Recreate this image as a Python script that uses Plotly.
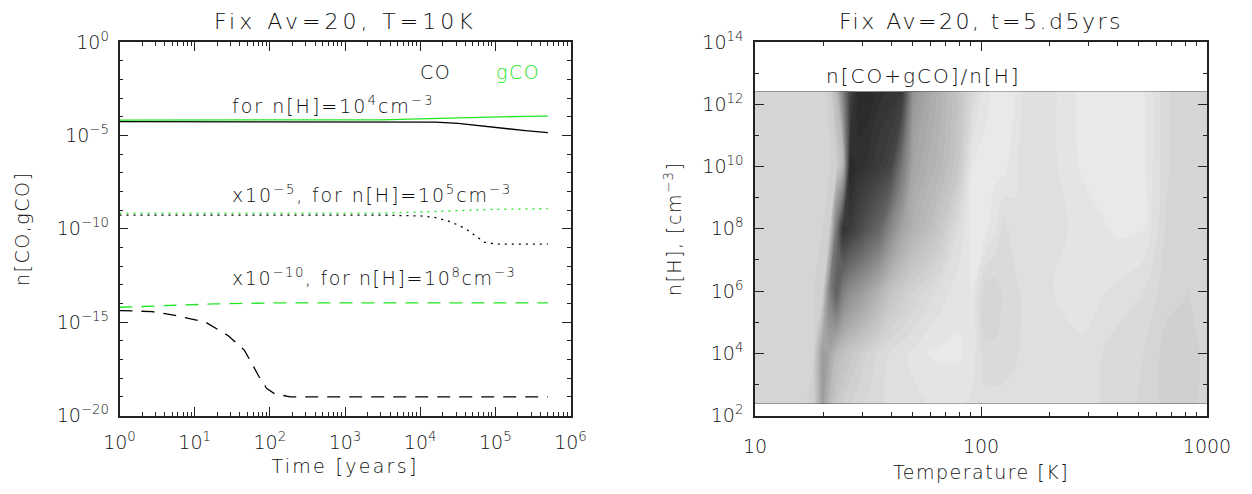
import plotly.graph_objects as go

# ---------------- left panel data (Fix Av=20, T=10K) ----------------
t_co_n4 = [1, 1e2, 1e4, 1.6e4, 3.2e4, 6.3e4, 1e5, 2.5e5, 5e5]
co_n4 = [5.4e-5, 5.4e-5, 5.4e-5, 5.1e-5, 4.4e-5, 3.2e-5, 2.6e-5, 1.8e-5, 1.4e-5]
t_gco_n4 = [1, 1e3, 3e3, 1e4, 3e4, 1e5, 2.5e5, 5e5]
gco_n4 = [6.6e-5, 6.6e-5, 6.8e-5, 7.6e-5, 8.7e-5, 1.0e-4, 1.05e-4, 1.07e-4]

t_co_n5 = [1, 1e3, 3e3, 1e4, 1.6e4, 2.3e4, 3.2e4, 4.1e4, 5.8e4, 7.2e4, 1.05e5, 5e5]
co_n5 = [5.4e-10, 5.4e-10, 5.4e-10, 4.9e-10, 4.0e-10, 2.7e-10, 1.6e-10, 9.5e-11,
         3.5e-11, 1.9e-11, 1.5e-11, 1.5e-11]
t_gco_n5 = [1, 3e3, 1e4, 3e4, 1e5, 5e5]
gco_n5 = [6.9e-10, 6.9e-10, 7.9e-10, 9.5e-10, 1.1e-9, 1.2e-9]

t_co_n8 = [1, 2.7, 5.5, 14, 28, 46, 72, 91, 115, 186, 5e5]
co_n8 = [4.2e-15, 3.7e-15, 2.3e-15, 1.0e-15, 1.9e-16, 3.1e-17, 1.2e-18, 2.8e-19,
         1.5e-19, 1.0e-19, 1.0e-19]
t_gco_n8 = [1, 4, 18, 100, 5e5]
gco_n8 = [6.3e-15, 7.9e-15, 9.5e-15, 1.07e-14, 1.07e-14]

time_ticks = [1, 10, 100, 1e3, 1e4, 1e5, 1e6]
time_ticktext = ["10<sup>0</sup>", "10<sup>1</sup>", "10<sup>2</sup>", "10<sup>3</sup>",
                 "10<sup>4</sup>", "10<sup>5</sup>", "10<sup>6</sup>"]
abund_ticks = [1, 1e-5, 1e-10, 1e-15, 1e-20]
abund_ticktext = ["10<sup>0</sup>", "10<sup>−5</sup>", "10<sup>−10</sup>",
                  "10<sup>−15</sup>", "10<sup>−20</sup>"]

# ---------------- right panel data (Fix Av=20, t=5.d5yrs) ----------------
logT_grid = [1.00, 1.20, 1.26, 1.30, 1.33, 1.36, 1.39, 1.42, 1.46, 1.50, 1.55, 1.60,
             1.65, 1.70, 1.76, 1.82, 1.90, 1.96, 2.02, 2.06, 2.10, 2.15, 2.22, 2.32,
             2.45, 2.60, 2.72, 2.82, 2.92, 3.00]
logn_grid = [2.4, 4.0, 6.0, 8.0, 10.0, 12.4]
# grey shade of n[CO+gCO]/n[H] (0 = black, 255 = white), one row per density
shade_n2 = [212, 212, 208, 158, 185, 200, 206, 210, 214, 216, 219, 222, 224, 224, 225,
            226, 226, 224, 222, 222, 222, 223, 224, 224, 222, 218, 214, 208, 208, 212]
shade_n4 = [212, 212, 210, 155, 165, 184, 192, 198, 204, 210, 216, 221, 224, 226, 230,
            231, 231, 228, 216, 216, 217, 219, 223, 224, 224, 217, 215, 208, 207, 212]
shade_n6 = [212, 212, 210, 208, 130, 95, 125, 140, 150, 163, 178, 194, 202, 210, 216,
            222, 228, 230, 212, 212, 216, 218, 224, 225, 227, 224, 220, 212, 210, 212]
shade_n8 = [212, 212, 212, 210, 205, 120, 50, 58, 72, 86, 102, 136, 162, 178, 188,
            200, 220, 232, 232, 226, 218, 224, 224, 224, 226, 231, 230, 214, 210, 212]
shade_n10 = [212, 212, 212, 212, 210, 205, 180, 40, 48, 52, 60, 68, 120, 165, 175,
             183, 200, 230, 232, 232, 232, 226, 220, 224, 231, 232, 231, 216, 210, 212]
shade_n12 = [212, 212, 212, 212, 208, 185, 130, 68, 40, 40, 48, 51, 53, 148, 165,
             178, 196, 215, 228, 232, 232, 230, 220, 224, 232, 232, 231, 216, 210, 212]

temp_ticks = [10, 100, 1000]
dens_ticks = [1e2, 1e4, 1e6, 1e8, 1e10, 1e12, 1e14]
dens_ticktext = ["10<sup>2</sup>", "10<sup>4</sup>", "10<sup>6</sup>", "10<sup>8</sup>",
                 "10<sup>10</sup>", "10<sup>12</sup>", "10<sup>14</sup>"]

# ---------------- figure ----------------
W, H = 1252, 494
FONT = "DejaVu Sans"
WEIGHT = 300
GREEN = "#22e622"
INK = "#111111"


def spaced(text, px):
    return '<span style="letter-spacing:%spx">%s</span>' % (px, text)


def fnt(size, color=INK):
    return dict(family=FONT, size=size, color=color, weight=WEIGHT)


fig = go.Figure()


def line(t, v, color, dash, name):
    fig.add_trace(go.Scatter(x=t, y=v, mode="lines", name=name, showlegend=False,
                             line=dict(color=color, width=1.3, dash=dash),
                             xaxis="x", yaxis="y"))


line(t_co_n4, co_n4, "black", "solid", "CO n=1e4")
line(t_gco_n4, gco_n4, GREEN, "solid", "gCO n=1e4")
line(t_co_n5, co_n5, "black", "2px,5px", "CO n=1e5")
line(t_gco_n5, gco_n5, GREEN, "2px,5px", "gCO n=1e5")
line(t_co_n8, co_n8, "black", "13px,9px", "CO n=1e8")
line(t_gco_n8, gco_n8, GREEN, "13px,9px", "gCO n=1e8")

T_vals = [10 ** v for v in logT_grid]
n_vals = [10 ** v for v in logn_grid]
fig.add_trace(go.Contour(
    x=T_vals, y=n_vals,
    z=[shade_n2, shade_n4, shade_n6, shade_n8, shade_n10, shade_n12],
    colorscale=[[0, "black"], [1, "white"]], zmin=0, zmax=255, zauto=False,
    autocontour=False,
    contours=dict(coloring="fill", start=0, end=255, size=5, showlines=False),
    line=dict(width=0), showscale=False, hoverinfo="skip",
    xaxis="x2", yaxis="y2"))

ydom = [(H - 415.6) / H, (H - 42) / H]
xdom1 = [119.5 / W, 570.5 / W]
xdom2 = [755 / W, 1207 / W]

axis_common = dict(showline=True, linecolor="#222", linewidth=1.5, mirror="ticks",
                   ticks="inside", ticklen=9, tickcolor="#222", tickwidth=1.2,
                   showgrid=False, zeroline=False, automargin=False,
                   tickfont=fnt(19))

time_minor = [k * 10 ** d for d in range(6) for k in range(2, 10)]
abund_minor = [10.0 ** (-d) for d in range(0, 21)]
temp_minor = [k * 10 ** d for d in range(1, 3) for k in range(2, 10)]
dens_minor = [10.0 ** d for d in range(3, 14, 2)]

fig.update_layout(
    width=W, height=H, margin=dict(l=0, r=0, t=0, b=0),
    paper_bgcolor="white", plot_bgcolor="white", showlegend=False,
    font=fnt(19),
    xaxis=dict(axis_common, type="log", domain=xdom1, range=[0, 6], anchor="y",
               tickvals=time_ticks, ticktext=time_ticktext, ticklabelstandoff=9,
               minor=dict(tickvals=time_minor, ticks="inside", ticklen=4,
                          tickcolor="#222", showgrid=False),
               title=dict(text=spaced("Time [years]", 2.3), standoff=8, font=fnt(19))),
    yaxis=dict(axis_common, type="log", domain=ydom, range=[-20, 0], anchor="x",
               tickvals=abund_ticks, ticktext=abund_ticktext, ticklabelstandoff=5,
               minor=dict(tickvals=abund_minor, ticks="inside", ticklen=4,
                          tickcolor="#222", showgrid=False),
               title=dict(text=spaced("n[CO,gCO]", 1.5), standoff=22, font=fnt(19))),
    xaxis2=dict(axis_common, type="log", domain=xdom2, range=[1, 3], anchor="y2",
                tickvals=temp_ticks, ticktext=["10", "100", "1000"], ticklabelstandoff=13,
                minor=dict(tickvals=temp_minor, ticks="inside", ticklen=4,
                           tickcolor="#222", showgrid=False),
                title=dict(text=spaced("Temperature [K]", 1.5), standoff=10,
                           font=fnt(19))),
    yaxis2=dict(axis_common, type="log", domain=ydom, range=[2, 14], anchor="x2",
                tickvals=dens_ticks, ticktext=dens_ticktext, ticklabelstandoff=6,
                minor=dict(tickvals=dens_minor, ticks="inside", ticklen=4,
                           tickcolor="#222", showgrid=False),
                title=dict(text=spaced("n[H], [cm<sup>−3</sup>]", 1.5), standoff=16,
                           font=fnt(19))),
)


def note(text, x, y, xref, yref, color=INK, size=19, xanchor="left"):
    fig.add_annotation(text=text, x=x, y=y, xref=xref, yref=yref, showarrow=False,
                       xanchor=xanchor, yanchor="middle", font=fnt(size, color))


# titles
note(spaced("Fix Av=20, T=10K", 4), (xdom1[0] + xdom1[1]) / 2, 1 - 22 / H,
     "paper", "paper", size=22, xanchor="center")
note(spaced("Fix Av=20, t=5.d5yrs", 2.5), (xdom2[0] + xdom2[1]) / 2, 1 - 22 / H,
     "paper", "paper", size=22, xanchor="center")

# left panel labels (log axis coordinates)
note(spaced("CO", 1.5), 4.2, -1.6, "x", "y", xanchor="center")
note(spaced("gCO", 1.5), 5.3, -1.6, "x", "y", color=GREEN, xanchor="center")
note(spaced("for n[H]=10<sup>4</sup>cm<sup>−3</sup>", 2.0), 1.47, -3.37, "x", "y")
note(spaced("x10<sup>−5</sup>, for n[H]=10<sup>5</sup>cm<sup>−3</sup>", 1.85), 1.47, -8.14,
     "x", "y")
note(spaced("x10<sup>−10</sup>, for n[H]=10<sup>8</sup>cm<sup>−3</sup>", 1.6), 1.47, -12.56,
     "x", "y")

# right panel label
note(spaced("n[CO+gCO]/n[H]", 2), 1.305, 12.9, "x2", "y2", size=20)

fig.write_html("out.html")
